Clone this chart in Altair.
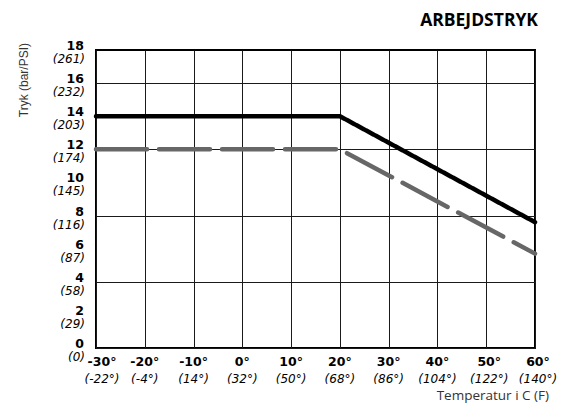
import altair as alt
import pandas as pd

# ---- data ----
temp_c = [-30, 20, 60]
work_black = [14, 14, 7.6]
work_grey = [12, 12, 5.7]

bar_ticks = [0, 2, 4, 6, 8, 10, 12, 14, 16, 18]
psi_labels = ["(0)", "(29)", "(58)", "(87)", "(116)", "(145)", "(174)", "(203)", "(232)", "(261)"]

c_ticks = [-30, -20, -10, 0, 10, 20, 30, 40, 50, 60]
c_labels = ["-30°", "-20°", "-10°", "0°", "10°", "20°", "30°", "40°", "50°", "60°"]
f_labels = ["(-22°)", "(-4°)", "(14°)", "(32°)", "(50°)", "(68°)", "(86°)", "(104°)", "(122°)", "(140°)"]

title_text = "ARBEJDSTRYK"
y_title = "Tryk (bar/PSI)"
x_title = "Temperatur i C (F)"

W, H = 439, 298

lines_df = pd.DataFrame({
    "temp": temp_c + temp_c,
    "bar": work_black + work_grey,
    "serie": ["A"] * 3 + ["B"] * 3,
    "order": [0, 1, 2, 0, 1, 2],
})
ylab_df = pd.DataFrame({"bar": bar_ticks, "num": [str(v) for v in bar_ticks], "psi": psi_labels})
xlab_df = pd.DataFrame({"temp": c_ticks, "c": c_labels, "f": f_labels})

xs = alt.Scale(domain=[-30, 60], nice=False, zero=False)
ys = alt.Scale(domain=[0, 18], nice=False, zero=False)

lines = alt.Chart(lines_df).mark_line(strokeWidth=4.5, strokeCap="round", strokeJoin="miter").encode(
    x=alt.X("temp:Q", scale=xs, axis=alt.Axis(values=c_ticks, grid=True, labels=False, ticks=False,
                                              domain=False, title=None, gridColor="#1a1a1a",
                                              gridWidth=1, gridOpacity=1)),
    y=alt.Y("bar:Q", scale=ys, axis=alt.Axis(values=bar_ticks, grid=True, labels=False, ticks=False,
                                             domain=False, title=None, gridColor="#1a1a1a",
                                             gridWidth=1, gridOpacity=1)),
    color=alt.Color("serie:N", scale=alt.Scale(domain=["A", "B"], range=["#000000", "#676767"]), legend=None),
    strokeDash=alt.StrokeDash("serie:N", scale=alt.Scale(domain=["A", "B"], range=[[1, 0], [51, 12]]), legend=None),
    order="order:Q",
)

LBL_FONT = "DejaVu Sans"

ybold = alt.Chart(ylab_df).mark_text(align="right", baseline="alphabetic", font=LBL_FONT,
                                     fontWeight="bold", fontSize=12.5, dy=0, color="#000").encode(
    x=alt.value(-12), y=alt.Y("bar:Q", scale=ys), text="num:N")
yital = alt.Chart(ylab_df).mark_text(align="right", baseline="middle", font=LBL_FONT,
                                     fontStyle="italic", fontSize=12, dy=9, color="#000").encode(
    x=alt.value(-11), y=alt.Y("bar:Q", scale=ys), text="psi:N")


def x_labels(filter_expr, dx):
    base = alt.Chart(xlab_df).transform_filter(filter_expr)
    b = base.mark_text(align="center", baseline="middle", font=LBL_FONT, fontWeight="bold",
                       fontSize=12.5, color="#000", dx=dx).encode(
        x=alt.X("temp:Q", scale=xs), y=alt.value(H + 14), text="c:N")
    i = base.mark_text(align="center", baseline="middle", font=LBL_FONT, fontStyle="italic",
                       fontSize=12, color="#000", dx=dx).encode(
        x=alt.X("temp:Q", scale=xs), y=alt.value(H + 31), text="f:N")
    return [b, i]


xl = (x_labels("datum.temp == -30", 6)
      + x_labels("datum.temp > -30 && datum.temp < 50", 0)
      + x_labels("datum.temp >= 50", 3))

ttl = alt.Chart(pd.DataFrame({"t": [title_text]})).mark_text(
    align="right", baseline="middle", font="Open Sans", fontWeight="bold", fontSize=17.5, color="#000"
).encode(x=alt.value(W + 3), y=alt.value(-29.5), text="t:N")

ytl = alt.Chart(pd.DataFrame({"t": [y_title]})).mark_text(
    align="right", baseline="middle", font="Liberation Sans", fontSize=12, angle=270, color="#333"
).encode(x=alt.value(-72), y=alt.value(-7), text="t:N")

xtl = alt.Chart(pd.DataFrame({"t": [x_title]})).mark_text(
    align="right", baseline="middle", font="Open Sans", fontSize=13.5, color="#333"
).encode(x=alt.value(W + 14), y=alt.value(H + 48), text="t:N")

chart = alt.layer(lines, ybold, yital, *xl, ttl, ytl, xtl).properties(
    width=W, height=H,
    autosize=alt.AutoSizeParams(type="none"),
    padding={"left": 88, "top": 42, "right": 28, "bottom": 58},
).configure_view(stroke="#000", strokeWidth=2)

chart.save("out.html", embed_options={"renderer": "svg", "actions": False})
